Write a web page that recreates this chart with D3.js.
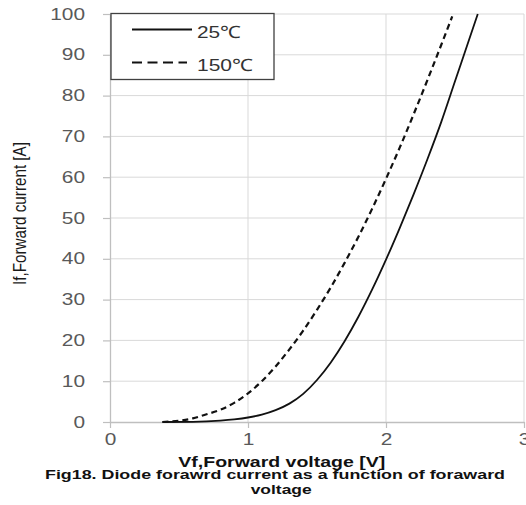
<!DOCTYPE html>
<html>
<head>
<meta charset="utf-8">
<script src="https://cdn.jsdelivr.net/npm/d3@7"></script>
<style>
  body { margin: 0; background: #fff; }
  text { font-family: "Liberation Sans", Arial, sans-serif; }
</style>
</head>
<body>
<div id="chart"></div>
<script>
// values
var vf25  = [0.38, 0.6, 0.8, 0.9, 1.0, 1.1, 1.2, 1.3, 1.4, 1.5, 1.6, 1.7, 1.8, 1.9, 2.0, 2.1, 2.2, 2.3, 2.4, 2.5, 2.6, 2.665];
var if25  = [0, 0.05, 0.35, 0.65, 1.1, 1.8, 2.9, 4.5, 6.9, 10.3, 14.6, 19.8, 25.8, 32.5, 39.8, 47.6, 55.8, 64.4, 73.5, 83.5, 93.5, 100];
var vf150 = [0.38, 0.5, 0.6, 0.7, 0.8, 0.9, 1.0, 1.1, 1.2, 1.3, 1.4, 1.5, 1.6, 1.7, 1.8, 1.9, 2.0, 2.1, 2.2, 2.3, 2.4, 2.48];
var if150 = [0, 0.3, 0.9, 1.9, 3.0, 4.7, 7.0, 10.0, 13.6, 17.8, 22.4, 27.5, 33, 39, 45.4, 52.3, 59.6, 67.3, 75.4, 83.8, 92.4, 99.4];
var xTicks = [0, 1, 2, 3];
var yTicks = [0, 10, 20, 30, 40, 50, 60, 70, 80, 90, 100];
var seriesNames = ["25\u2103", "150\u2103"];

var width = 526, height = 505;

var svg = d3.select("#chart").append("svg")
    .attr("width", width)
    .attr("height", height)
    .style("background-color", "white");

// set the ranges
var x = d3.scaleLinear().domain([0, 3]).range([110, 524]);
var y = d3.scaleLinear().domain([0, 100]).range([422, 14]);

// grid lines
svg.append("g").selectAll("line.h")
    .data(yTicks.filter(function(d) { return d > 0; }))
  .enter().append("line")
    .attr("x1", x(0)).attr("x2", x(3))
    .attr("y1", function(d) { return y(d); })
    .attr("y2", function(d) { return y(d); })
    .attr("stroke", "#d9d9d9").attr("stroke-width", 1);
svg.append("g").selectAll("line.v")
    .data(xTicks.filter(function(d) { return d > 0; }))
  .enter().append("line")
    .attr("x1", function(d) { return x(d); })
    .attr("x2", function(d) { return x(d); })
    .attr("y1", y(0)).attr("y2", y(100))
    .attr("stroke", "#d9d9d9").attr("stroke-width", 1);

// axes
var xAxis = svg.append("g")
    .attr("transform", "translate(0," + y(0) + ")")
    .call(d3.axisBottom(x).tickValues(xTicks).tickFormat(d3.format("d")).tickSize(6).tickSizeOuter(0));
var yAxis = svg.append("g")
    .attr("transform", "translate(" + x(0) + ",0)")
    .call(d3.axisLeft(y).tickValues(yTicks).tickFormat(d3.format("d")).tickSize(7).tickSizeOuter(0));

[xAxis, yAxis].forEach(function(a) {
  a.select(".domain").attr("stroke", "#bfbfbf").attr("stroke-width", 1.3);
  a.selectAll(".tick line").attr("stroke", "#bfbfbf").attr("stroke-width", 1.2);
  a.selectAll(".tick text")
    .attr("fill", "#595959")
    .style("font-size", "16px")
    .attr("textLength", function(d) { return String(d).length * 11.6; })
    .attr("lengthAdjust", "spacingAndGlyphs");
});
xAxis.selectAll(".tick text").attr("y", 11).attr("dy", "0.76em");
yAxis.selectAll(".tick text").attr("x", -25);

// curves
var line = d3.line()
    .x(function(d) { return x(d[0]); })
    .y(function(d) { return y(d[1]); })
    .curve(d3.curveMonotoneX);

var data25 = vf25.map(function(v, i) { return [v, if25[i]]; });
var data150 = vf150.map(function(v, i) { return [v, if150[i]]; });

svg.append("path")
    .datum(data150)
    .attr("d", line)
    .attr("fill", "none")
    .attr("stroke", "#111")
    .attr("stroke-width", 2.2)
    .attr("stroke-dasharray", "6,4");

svg.append("path")
    .datum(data25)
    .attr("d", line)
    .attr("fill", "none")
    .attr("stroke", "#111")
    .attr("stroke-width", 1.8);

// legend
var legend = svg.append("g");
legend.append("rect")
    .attr("x", 111).attr("y", 13.5)
    .attr("width", 163).attr("height", 66)
    .attr("fill", "white")
    .attr("stroke", "#404040").attr("stroke-width", 1.3);
legend.append("line")
    .attr("x1", 132).attr("x2", 192).attr("y1", 29.5).attr("y2", 29.5)
    .attr("stroke", "#111").attr("stroke-width", 1.8);
legend.append("line")
    .attr("x1", 132).attr("x2", 187).attr("y1", 62.5).attr("y2", 62.5)
    .attr("stroke", "#111").attr("stroke-width", 2)
    .attr("stroke-dasharray", "10,5.5");
legend.append("text")
    .attr("x", 197).attr("y", 38)
    .attr("fill", "#333").style("font-size", "17px")
    .attr("textLength", 44).attr("lengthAdjust", "spacingAndGlyphs")
    .text(seriesNames[0]);
legend.append("text")
    .attr("x", 197).attr("y", 71)
    .attr("fill", "#333").style("font-size", "17px")
    .attr("textLength", 56).attr("lengthAdjust", "spacingAndGlyphs")
    .text(seriesNames[1]);

// axis titles
svg.append("text")
    .attr("transform", "translate(26,213.5) rotate(-90)")
    .attr("text-anchor", "middle")
    .attr("fill", "#1a1a1a")
    .style("font-size", "18px")
    .attr("textLength", 143).attr("lengthAdjust", "spacingAndGlyphs")
    .text("If,Forward current [A]");

svg.append("text")
    .attr("x", 178.3).attr("y", 467)
    .attr("fill", "#111")
    .style("font-size", "15px").style("font-weight", "bold")
    .attr("textLength", 207).attr("lengthAdjust", "spacingAndGlyphs")
    .text("Vf,Forward voltage [V]");

// caption
svg.append("text")
    .attr("x", 45).attr("y", 479)
    .attr("fill", "#111")
    .style("font-size", "13px").style("font-weight", "bold")
    .attr("textLength", 460).attr("lengthAdjust", "spacingAndGlyphs")
    .text("Fig18. Diode forawrd current as a function of foraward");
svg.append("text")
    .attr("x", 250.7).attr("y", 494)
    .attr("fill", "#111")
    .style("font-size", "13px").style("font-weight", "bold")
    .attr("textLength", 61).attr("lengthAdjust", "spacingAndGlyphs")
    .text("voltage");
</script>
</body>
</html>
